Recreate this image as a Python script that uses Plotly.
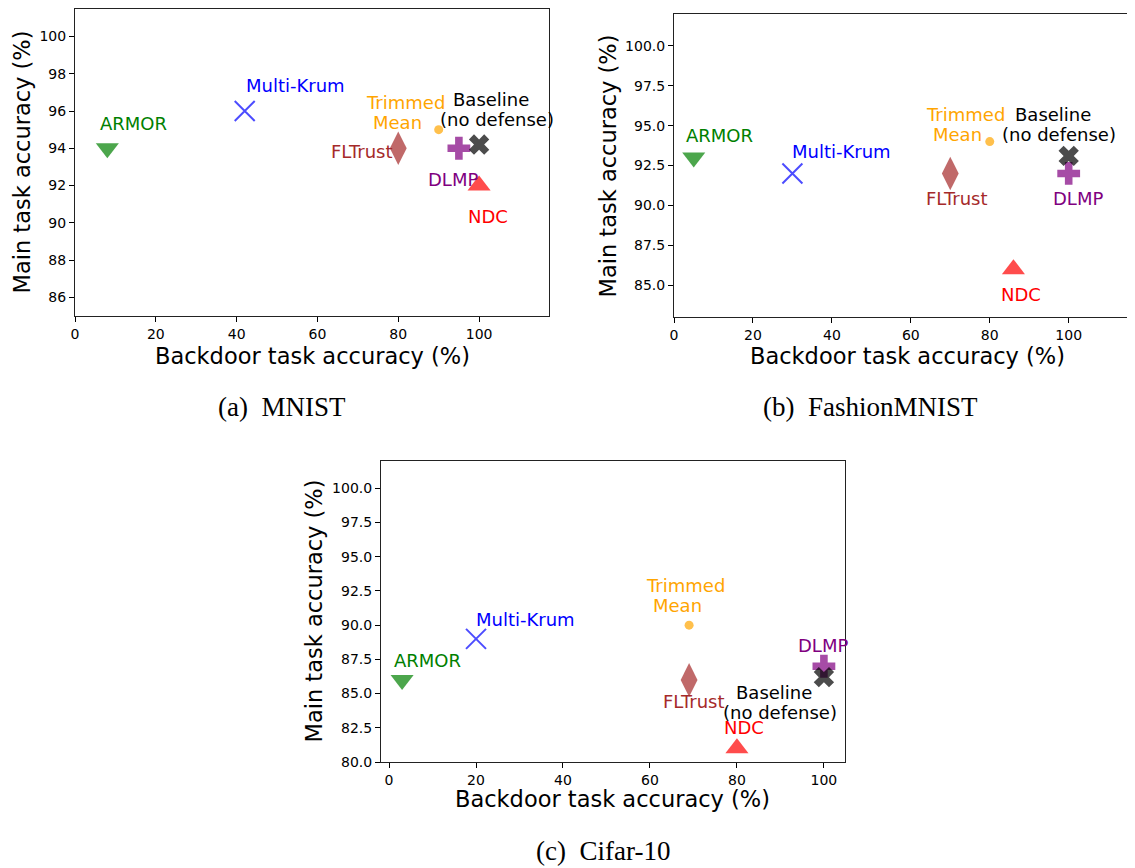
import plotly.graph_objects as go

# ---------------- data ----------------
methods = ["ARMOR", "Multi-Krum", "Trimmed Mean", "FLTrust", "DLMP", "Baseline", "NDC"]

mnist_backdoor = [8, 42, 90, 80, 95, 100, 100]
mnist_main = [94, 96, 95, 94, 94, 94.2, 92]

fmnist_backdoor = [5, 30, 80, 70, 100, 100, 86]
fmnist_main = [93, 92, 94, 92, 92, 93.1, 86]

cifar_backdoor = [3, 20, 69, 69, 100, 100, 80]
cifar_main = [86, 89, 90, 86, 87, 86.2, 81]

label_texts = ["ARMOR", "Multi-Krum", "Trimmed\nMean", "FLTrust", "DLMP",
               "Baseline\n(no defense)", "NDC"]

mnist_ticks = [86, 88, 90, 92, 94, 96, 98, 100]
fmnist_ticks = [85.0, 87.5, 90.0, 92.5, 95.0, 97.5, 100.0]
cifar_ticks = [80.0, 82.5, 85.0, 87.5, 90.0, 92.5, 95.0, 97.5, 100.0]
x_ticks = [0, 20, 40, 60, 80, 100]

x_title = "Backdoor task accuracy (%)"
y_title = "Main task accuracy (%)"
captions = ["(a)  MNIST", "(b)  FashionMNIST", "(c)  Cifar-10"]

# ---------------- styles ----------------
text_colors = ["#008000", "#0000ff", "#ffa500", "#a52a2a", "#800080", "#000000", "#ff0000"]
symbols = ["triangle-down", "x-thin-open", "circle", "diamond-tall", "cross", "x", "triangle-up"]
sizes = [20, 20, 9, 24, 19, 18, 20]
line_xshift = {"Mean": -8, "Baseline": -6.5}   # horizontal offsets of label lines (px)
LINE_GAP = 20                                     # px between label lines

# label anchor positions (data units) per panel
mnist_lbl = [(14.5, 95.35), (54.5, 97.35), (81.9, 95.9), (71.1, 93.83), (93.5, 92.35), (104.5, 96.1), (102.2, 90.35)]
fmnist_lbl = [(11.5, 94.4), (42.4, 93.4), (73.8, 95.1), (71.7, 90.4), (102.3, 90.4), (97.6, 95.1), (88.0, 84.4)]
cifar_lbl = [(8.8, 87.4), (31.4, 90.4), (68.1, 92.2), (70.1, 84.45), (99.75, 88.5), (90.0, 84.35), (81.6, 82.5)]

FONT = "DejaVu Sans"
OFF = 8                     # default page margin of the html body
W, H = 1135 - OFF, 868 - OFF


def px(x):
    return (x - OFF) / W


def py(y):
    return 1 - (y - OFF) / H


fig = go.Figure()

panels = [
    dict(x=mnist_backdoor, y=mnist_main, lbl=mnist_lbl, xa="x", ya="y",
         xdom=[px(75), px(549)], ydom=[py(316), py(8.5)],
         xr=[0, 117.3], yr=[85, 101.5], yt=mnist_ticks, fmt="d", mirror=True,
         xt=(312, 356), ytl=(21.5, 162), cap=(282, 407)),
    dict(x=fmnist_backdoor, y=fmnist_main, lbl=fmnist_lbl, xa="x2", ya="y2",
         xdom=[px(674), 1.0], ydom=[py(317), py(14)],
         xr=[0, 116.8], yr=[83, 102], yt=fmnist_ticks, fmt=".1f", mirror=False,
         xt=(907, 356), ytl=(607.5, 166), cap=(870, 407)),
    dict(x=cifar_backdoor, y=cifar_main, lbl=cifar_lbl, xa="x3", ya="y3",
         xdom=[px(381), px(845)], ydom=[py(762), py(461)],
         xr=[-1.85, 104.85], yr=[80, 102], yt=cifar_ticks, fmt=".1f", mirror=True,
         xt=(612, 799), ytl=(313.5, 611), cap=(603, 851)),
]

annotations = []
layout_axes = {}
for i, p in enumerate(panels):
    for k in range(len(methods)):
        sym = symbols[k]
        marker = dict(symbol=sym, size=sizes[k], color=text_colors[k], opacity=0.7)
        if sym == "x-thin-open":
            marker["line"] = dict(width=2, color=text_colors[k])
        else:
            marker["line"] = dict(width=0)
        fig.add_trace(go.Scatter(
            x=[p["x"][k]], y=[p["y"][k]], mode="markers", marker=marker,
            xaxis=p["xa"], yaxis=p["ya"], showlegend=False, name=methods[k],
            hoverinfo="skip"))
        lx, ly = p["lbl"][k]
        lines = label_texts[k].split("\n")
        n = len(lines)
        for j, line in enumerate(lines):
            annotations.append(dict(
                x=lx, y=ly, xref=p["xa"], yref=p["ya"], text=line,
                xshift=line_xshift.get(line, 0) if n > 1 else 0,
                yshift=((n - 1) / 2 - j) * LINE_GAP,
                showarrow=False, font=dict(family=FONT, size=18, color=text_colors[k]),
                xanchor="center", yanchor="middle", align="center"))

    # axis titles and caption
    annotations.append(dict(x=px(p["xt"][0]), y=py(p["xt"][1]), xref="paper", yref="paper",
                            text=x_title, showarrow=False, xanchor="center", yanchor="middle",
                            font=dict(family=FONT, size=22.5, color="#000")))
    annotations.append(dict(x=px(p["ytl"][0]), y=py(p["ytl"][1]), xref="paper", yref="paper",
                            text=y_title, showarrow=False, xanchor="center", yanchor="middle",
                            textangle=-90, font=dict(family=FONT, size=22.5, color="#000")))
    annotations.append(dict(x=px(p["cap"][0]), y=py(p["cap"][1]), xref="paper", yref="paper",
                            text=captions[i], showarrow=False, xanchor="center", yanchor="middle",
                            font=dict(family="Liberation Serif", size=27, color="#000")))

    sfx = "" if i == 0 else str(i + 1)
    layout_axes["xaxis" + sfx] = dict(
        domain=p["xdom"], range=p["xr"], anchor=p["ya"], tickvals=x_ticks,
        ticks="outside", ticklen=5, tickwidth=1, tickcolor="#000",
        showline=True, linecolor="#222", linewidth=1, mirror=True,
        showgrid=False, zeroline=False, automargin=False,
        tickfont=dict(family=FONT, size=14, color="#000"))
    layout_axes["yaxis" + sfx] = dict(
        domain=p["ydom"], range=p["yr"], anchor=p["xa"], tickvals=p["yt"],
        tickformat=p["fmt"],
        ticks="outside", ticklen=5, tickwidth=1, tickcolor="#000",
        showline=True, linecolor="#222", linewidth=1, mirror=p["mirror"],
        showgrid=False, zeroline=False, automargin=False,
        tickfont=dict(family=FONT, size=14, color="#000"))

fig.update_layout(width=W, height=H, margin=dict(l=0, r=0, t=0, b=0),
                  paper_bgcolor="white", plot_bgcolor="white",
                  annotations=annotations, **layout_axes)

fig.write_html("out.html")
